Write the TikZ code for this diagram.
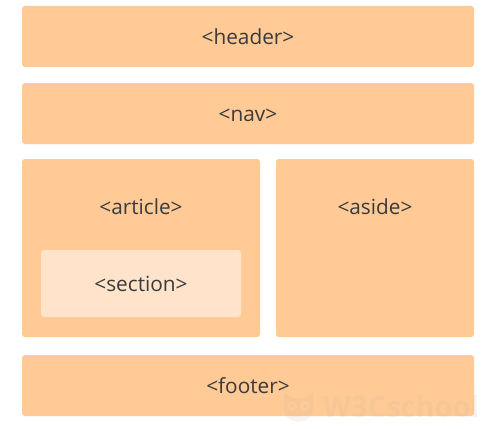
\documentclass[tikz,border=0pt]{standalone}
\usepackage{fontspec}
\setmainfont{Open Sans}
\definecolor{boxc}{HTML}{FFCA96}
\definecolor{innerc}{HTML}{FFE4CB}
\definecolor{inkc}{HTML}{3A3A3A}
\definecolor{wmc}{HTML}{B0A8A0}
\tikzset{
  box/.style={fill=#1,rounded corners=3pt,inner sep=0pt,outer sep=0pt},
  lbl/.style={text=inkc,font=\fontsize{20.8}{24}\selectfont,inner sep=0pt,anchor=base},
}
\begin{document}
\begin{tikzpicture}[x=1pt,y=-1pt]
\useasboundingbox (0,0) rectangle (492,428);
\fill[white] (0,0) rectangle (492,428);
\path[box=boxc] (22,6) rectangle (474,67);
\node[lbl] (header) at (248,44.5) {<header>};
\path[box=boxc] (22,83) rectangle (474,144);
\node[lbl] (nav) at (248,121.5) {<nav>};
\path[box=boxc] (22,159) rectangle (260,337);
\path[box=boxc] (276,159) rectangle (474,337);
\path[box=innerc] (41,250) rectangle (241,317);
\node[lbl] (section) at (141,291.5) {<section>};
\node[lbl] (article) at (141,214.5) {<article>};
\node[lbl] (aside) at (375,214.5) {<aside>};
\path[box=boxc] (22,355) rectangle (474,416);
\node[lbl] (footer) at (248,393.5) {<footer>};
% watermark
\begin{scope}[opacity=0.11]
\node[anchor=west,inner sep=0pt,text=wmc,text opacity=0.11,font=\bfseries\fontsize{29}{34}\selectfont] (wmark) at (323,407) {W3Cschool};
\fill[wmc,even odd rule] (284,393) -- (284,409) .. controls (284,419) and (295,422) .. (298.5,422) .. controls (302,422) and (313,419) .. (313,409) -- (313,393) -- (304,398) -- (293,398) -- cycle
  (292,406) circle (5) (305,406) circle (5);
\fill[wmc] (292,406) circle (2) (305,406) circle (2);
\end{scope}
\end{tikzpicture}
\end{document}
